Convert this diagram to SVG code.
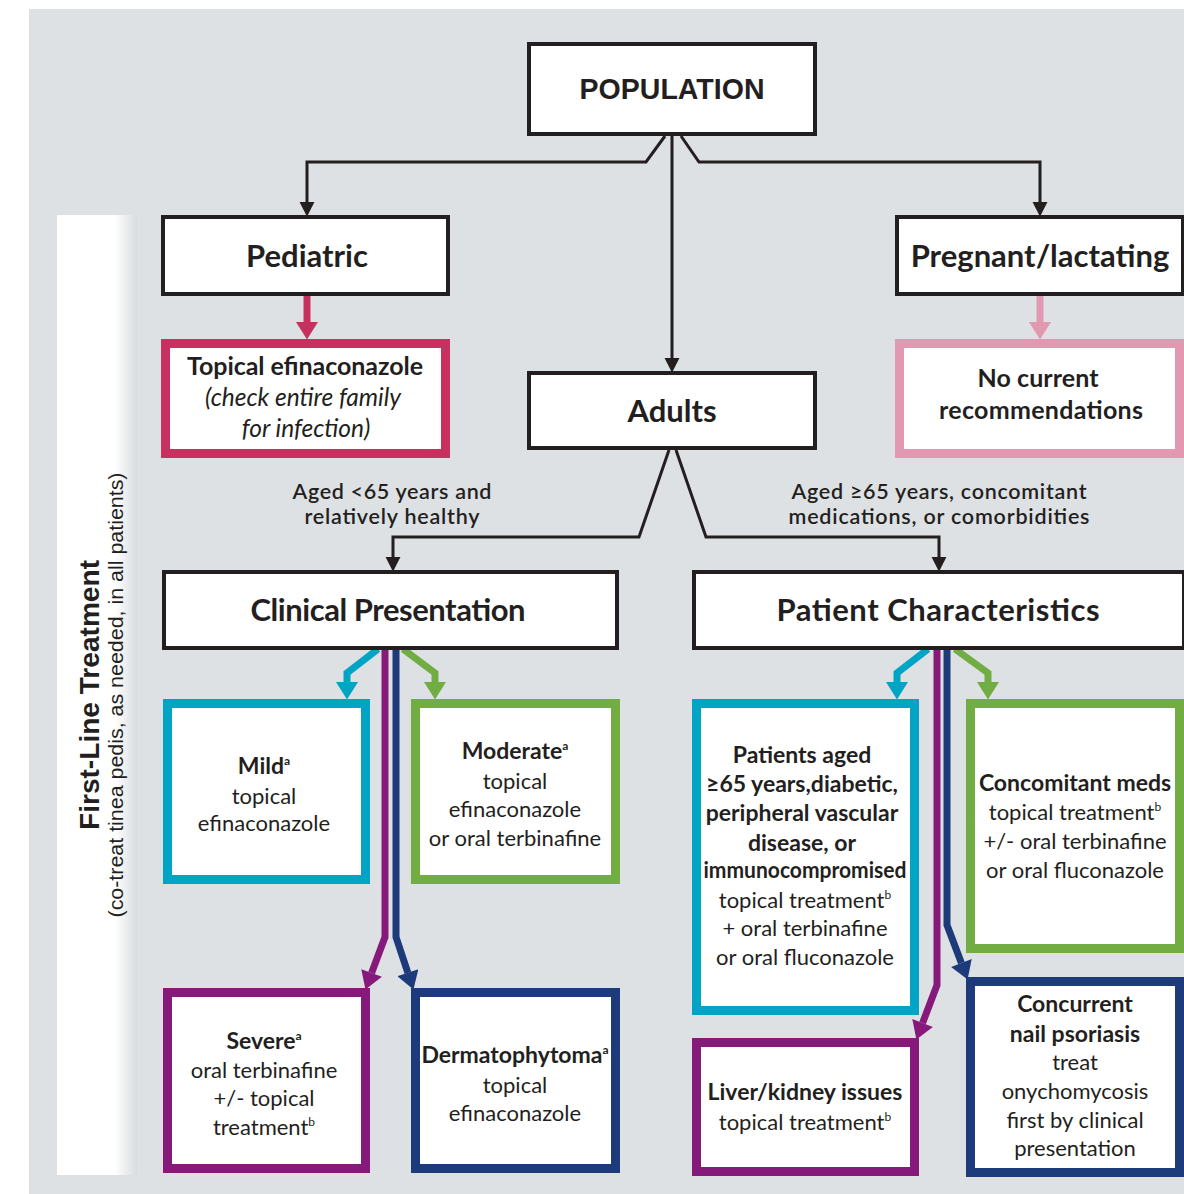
<svg xmlns="http://www.w3.org/2000/svg" width="1184" height="1194" viewBox="0 0 1184 1194">
  <defs>
    <linearGradient id="sideFade" x1="0" y1="0" x2="1" y2="0">
      <stop offset="0" stop-color="#ffffff"/>
      <stop offset="0.72" stop-color="#ffffff"/>
      <stop offset="1" stop-color="#d9dcdf"/>
    </linearGradient>
    <marker id="headBlack" markerUnits="userSpaceOnUse" markerWidth="16" markerHeight="16" refX="0" refY="6.5" orient="auto" viewBox="0 0 14 13">
      <path d="M0,0 L13,6.5 L0,13 z" fill="#231f20"/>
    </marker>
    <marker id="headCyan" markerUnits="userSpaceOnUse" markerWidth="20" markerHeight="22" refX="0" refY="10" orient="auto" viewBox="0 0 17 20">
      <path d="M0,0 L16,10 L0,20 z" fill="#00a5c5"/>
    </marker>
    <marker id="headGreen" markerUnits="userSpaceOnUse" markerWidth="20" markerHeight="22" refX="0" refY="10" orient="auto" viewBox="0 0 17 20">
      <path d="M0,0 L16,10 L0,20 z" fill="#72ad44"/>
    </marker>
    <marker id="headPurple" markerUnits="userSpaceOnUse" markerWidth="20" markerHeight="22" refX="0" refY="10" orient="auto" viewBox="0 0 17 20">
      <path d="M0,0 L16,10 L0,20 z" fill="#861a7b"/>
    </marker>
    <marker id="headNavy" markerUnits="userSpaceOnUse" markerWidth="20" markerHeight="22" refX="0" refY="10" orient="auto" viewBox="0 0 17 20">
      <path d="M0,0 L16,10 L0,20 z" fill="#1d3a7a"/>
    </marker>
    <marker id="headCrimson" markerUnits="userSpaceOnUse" markerWidth="20" markerHeight="22" refX="0" refY="10" orient="auto" viewBox="0 0 17 20">
      <path d="M0,0 L16,10 L0,20 z" fill="#c8315f"/>
    </marker>
    <marker id="headPink" markerUnits="userSpaceOnUse" markerWidth="20" markerHeight="22" refX="0" refY="10" orient="auto" viewBox="0 0 17 20">
      <path d="M0,0 L16,10 L0,20 z" fill="#e298b1"/>
    </marker>
  </defs>
  <style>
    .box { fill: #ffffff; }
    .blk { stroke: #231f20; stroke-width: 4; }
    .cyan { stroke: #00a5c5; stroke-width: 9; }
    .green { stroke: #72ad44; stroke-width: 9; }
    .purple { stroke: #861a7b; stroke-width: 9; }
    .navy { stroke: #1d3a7a; stroke-width: 9; }
    .crimson { stroke: #c8315f; stroke-width: 9; }
    .pink { stroke: #e298b1; stroke-width: 9; }
    text { font-family: Lato, "Open Sans", "DejaVu Sans", sans-serif; fill: #231f20; text-anchor: middle; }
    .head { font-size: 31px; font-weight: 700; }
    .bold { font-size: 23px; font-weight: 700; }
    .big { font-size: 25px; font-weight: 700; }
    .body { font-size: 22px; font-weight: 400; }
    .ital { font-size: 24.5px; font-style: italic; font-weight: 400; }
    .label { font-size: 21.5px; font-weight: 600; }
    .cond { font-family: "Liberation Sans Narrow", "Liberation Sans", Arial, sans-serif; }
    .sup { font-size: 12px; }
    .link { fill: none; stroke-linejoin: miter; }
    .lk-blk { stroke: #231f20; stroke-width: 3; marker-end: url(#headBlack); }
    .lk-cyan { stroke: #00a5c5; stroke-width: 7; marker-end: url(#headCyan); }
    .lk-green { stroke: #72ad44; stroke-width: 7; marker-end: url(#headGreen); }
    .lk-purple { stroke: #861a7b; stroke-width: 7; marker-end: url(#headPurple); }
    .lk-navy { stroke: #1d3a7a; stroke-width: 7; marker-end: url(#headNavy); }
    .lk-crimson { stroke: #c8315f; stroke-width: 7; marker-end: url(#headCrimson); }
    .lk-pink { stroke: #e298b1; stroke-width: 7; marker-end: url(#headPink); }
  </style>

  <!-- page and panel -->
  <rect x="0" y="0" width="1184" height="1194" fill="#ffffff"/>
  <rect x="29" y="9" width="1155" height="1185" fill="#dee1e4"/>

  <!-- side banner -->
  <g id="sidebar">
    <rect x="57" y="215" width="80" height="960" fill="url(#sideFade)"/>
    <text class="cond" transform="translate(99,695) rotate(-90)" font-size="27" font-weight="700" textLength="270" lengthAdjust="spacingAndGlyphs">First-Line Treatment</text>
    <text class="cond" transform="translate(123,695) rotate(-90)" font-size="20" font-weight="400" textLength="445" lengthAdjust="spacingAndGlyphs">(co-treat tinea pedis, as needed, in all patients)</text>
  </g>

  <!-- connectors -->
  <g id="connectors">
    <path class="link lk-blk" d="M665,136 L646,162 H307 V202"/>
    <path class="link lk-blk" d="M672,136 V358"/>
    <path class="link lk-blk" d="M681,136 L699,162 H1040 V202"/>
    <path class="link lk-blk" d="M669,450 L639,537 H393 V557"/>
    <path class="link lk-blk" d="M676,450 L706,537 H939 V557"/>

    <path class="link lk-crimson" d="M307,296 V322"/>
    <path class="link lk-pink" d="M1040,296 V322"/>

    <path class="link lk-cyan" d="M378,649 L347,673 V682"/>
    <path class="link lk-green" d="M403,649 L435,673 V682"/>
    <path class="link lk-purple" d="M385,649 V937 L371.6,973"/>
    <path class="link lk-navy" d="M396,649 V937 L407.9,972.8"/>

    <path class="link lk-cyan" d="M928,649 L897,673 V682"/>
    <path class="link lk-green" d="M955,649 L988,673 V682"/>
    <path class="link lk-purple" d="M937,649 V985 L922.6,1023"/>
    <path class="link lk-navy" d="M947,649 V925 L961.4,963"/>
  </g>

  <!-- top level -->
  <g id="population">
    <rect class="box blk" x="529" y="44" width="286" height="90"/>
    <text class="cond" x="672" y="99" font-size="30" font-weight="700" textLength="185" lengthAdjust="spacingAndGlyphs">POPULATION</text>
  </g>

  <g id="pediatric">
    <rect class="box blk" x="163" y="217" width="285" height="77"/>
    <text class="head" x="307" y="267">Pediatric</text>
  </g>

  <g id="pregnant">
    <rect class="box blk" x="897" y="217" width="286" height="77"/>
    <text class="head" x="1040" y="267">Pregnant/lactating</text>
  </g>

  <g id="topical-efinaconazole">
    <rect class="box crimson" x="165.5" y="343.5" width="280" height="110"/>
    <text class="big" x="305" y="375" textLength="236">Topical efinaconazole</text>
    <text class="ital" x="303" y="406">(check entire family</text>
    <text class="ital" x="306" y="437">for infection)</text>
  </g>

  <g id="no-recommendations">
    <rect class="box pink" x="899.5" y="343.5" width="280" height="110"/>
    <text class="big" x="1038" y="387" textLength="121">No current</text>
    <text class="big" x="1041" y="419" textLength="204">recommendations</text>
  </g>

  <g id="adults">
    <rect class="box blk" x="529" y="373" width="286" height="75"/>
    <text class="head" x="672" y="422">Adults</text>
  </g>

  <!-- branch labels -->
  <g id="label-under65">
    <text class="label" x="392" y="499" textLength="199">Aged &lt;65 years and</text>
    <text class="label" x="392" y="524" textLength="175">relatively healthy</text>
  </g>
  <g id="label-over65">
    <text class="label" x="939" y="499" textLength="295">Aged ≥65 years, concomitant</text>
    <text class="label" x="939" y="524" textLength="301">medications, or comorbidities</text>
  </g>

  <g id="clinical-presentation">
    <rect class="box blk" x="164" y="572" width="453" height="76"/>
    <text class="head" x="388" y="621" textLength="275">Clinical Presentation</text>
  </g>

  <g id="patient-characteristics">
    <rect class="box blk" x="694" y="572" width="490" height="76"/>
    <text class="head" x="938" y="621" textLength="323">Patient Characteristics</text>
  </g>

  <!-- clinical presentation outcomes -->
  <g id="mild">
    <rect class="box cyan" x="167.5" y="703.5" width="198" height="176"/>
    <text class="bold" x="264" y="774">Mild<tspan class="sup" dy="-9">a</tspan></text>
    <text class="body" x="264" y="804">topical</text>
    <text class="body" x="264" y="831">efinaconazole</text>
  </g>

  <g id="moderate">
    <rect class="box green" x="415.5" y="703.5" width="200" height="176"/>
    <text class="bold" x="515" y="759">Moderate<tspan class="sup" dy="-9">a</tspan></text>
    <text class="body" x="515" y="789">topical</text>
    <text class="body" x="515" y="817">efinaconazole</text>
    <text class="body" x="515" y="846">or oral terbinafine</text>
  </g>

  <g id="severe">
    <rect class="box purple" x="167.5" y="992.5" width="198" height="176"/>
    <text class="bold" x="264" y="1049">Severe<tspan class="sup" dy="-9">a</tspan></text>
    <text class="body" x="264" y="1078">oral terbinafine</text>
    <text class="body" x="264" y="1106">+/- topical</text>
    <text class="body" x="264" y="1135">treatment<tspan class="sup" dy="-9">b</tspan></text>
  </g>

  <g id="dermatophytoma">
    <rect class="box navy" x="415.5" y="992.5" width="200" height="176"/>
    <text class="bold" x="515" y="1063">Dermatophytoma<tspan class="sup" dy="-9">a</tspan></text>
    <text class="body" x="515" y="1093">topical</text>
    <text class="body" x="515" y="1121">efinaconazole</text>
  </g>

  <!-- patient characteristics outcomes -->
  <g id="older-diabetic">
    <rect class="box cyan" x="696.5" y="703.5" width="218" height="307"/>
    <text class="bold" x="802" y="763">Patients aged</text>
    <text class="bold" x="802" y="792">≥65 years,diabetic,</text>
    <text class="bold" x="802" y="821">peripheral vascular</text>
    <text class="bold" x="802" y="851">disease, or</text>
    <text class="bold" x="805" y="878" textLength="203" lengthAdjust="spacingAndGlyphs">immunocompromised</text>
    <text class="body" x="805" y="908">topical treatment<tspan class="sup" dy="-9">b</tspan></text>
    <text class="body" x="805" y="936">+ oral terbinafine</text>
    <text class="body" x="805" y="965">or oral fluconazole</text>
  </g>

  <g id="concomitant-meds">
    <rect class="box green" x="970.5" y="703.5" width="209" height="245"/>
    <text class="bold" x="1075" y="791">Concomitant meds</text>
    <text class="body" x="1075" y="820">topical treatment<tspan class="sup" dy="-9">b</tspan></text>
    <text class="body" x="1075" y="849">+/- oral terbinafine</text>
    <text class="body" x="1075" y="878">or oral fluconazole</text>
  </g>

  <g id="liver-kidney">
    <rect class="box purple" x="696.5" y="1042.5" width="218" height="129"/>
    <text class="bold" x="805" y="1100">Liver/kidney issues</text>
    <text class="body" x="805" y="1130">topical treatment<tspan class="sup" dy="-9">b</tspan></text>
  </g>

  <g id="nail-psoriasis">
    <rect class="box navy" x="970.5" y="981.5" width="209" height="191"/>
    <text class="bold" x="1075" y="1012">Concurrent</text>
    <text class="bold" x="1075" y="1042">nail psoriasis</text>
    <text class="body" x="1075" y="1070">treat</text>
    <text class="body" x="1075" y="1099">onychomycosis</text>
    <text class="body" x="1075" y="1128">first by clinical</text>
    <text class="body" x="1075" y="1156">presentation</text>
  </g>
</svg>
